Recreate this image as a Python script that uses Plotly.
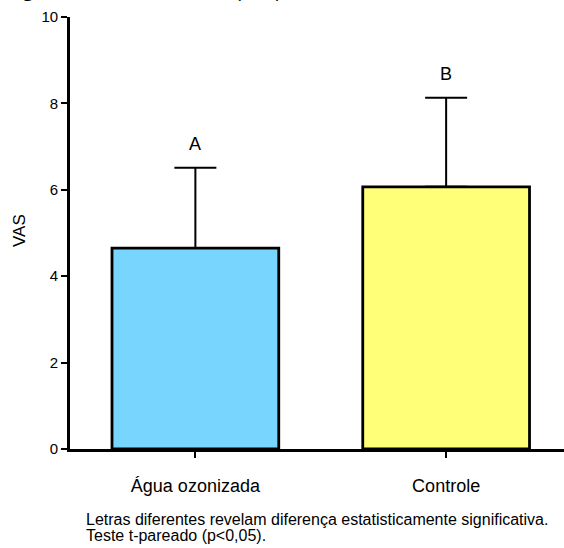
import plotly.graph_objects as go

categories = ["Água ozonizada", "Controle"]
means = [4.65, 6.07]
sds = [1.86, 2.06]
letters = ["A", "B"]
colors = ["#78D5FE", "#FFFF78"]
y_ticks = [0, 2, 4, 6, 8, 10]
footnote = ["Letras diferentes revelam diferença estatisticamente significativa.",
            "Teste t-pareado (p<0,05)."]

FONT = "Liberation Sans, Arial, sans-serif"


def px_y(page_y):
    # page pixel -> paper coordinate (plot area spans page y 17..449)
    return (449 - page_y) / 432


def px_x(page_x):
    # page pixel -> paper coordinate (plot area spans page x 70..564)
    return (page_x - 70) / 494


fig = go.Figure()
fig.add_trace(go.Bar(
    x=[0, 1], y=means, width=0.665,
    marker=dict(color=colors, line=dict(color="black", width=2.8)),
    error_y=dict(type="data", symmetric=False, array=sds, arrayminus=[0, 0],
                 color="black", thickness=2, width=21),
    showlegend=False,
))

for i, (m, s, l) in enumerate(zip(means, sds, letters)):
    fig.add_annotation(x=i, y=m + s, text=l, showarrow=False, yanchor="middle",
                       yshift=24, font=dict(family=FONT, size=18, color="black"))

fig.add_annotation(xref="paper", yref="paper", x=px_x(84), y=px_y(519), xanchor="left",
                   yanchor="middle", text=footnote[0], showarrow=False, align="left",
                   font=dict(family=FONT, size=16, color="black"))
fig.add_annotation(xref="paper", yref="paper", x=px_x(84), y=px_y(535), xanchor="left",
                   yanchor="middle", text=footnote[1], showarrow=False, align="left",
                   font=dict(family=FONT, size=16, color="black"))

fig.add_annotation(xref="paper", yref="paper", x=px_x(19), y=px_y(231), xanchor="center",
                   yanchor="middle", text="VAS", textangle=-90, showarrow=False,
                   font=dict(family=FONT, size=17, color="black"))

# heading that is cut off at the very top of the picture
fig.add_annotation(xref="paper", yref="paper", x=px_x(28), y=px_y(3),
                   xanchor="center", yanchor="bottom", text="<b>g</b>", showarrow=False,
                   font=dict(family=FONT, size=24, color="black"))
fig.add_annotation(xref="paper", yref="paper", x=px_x(258), y=px_y(3),
                   xanchor="center", yanchor="bottom", text="(VAS)", showarrow=False,
                   font=dict(family=FONT, size=18, color="black"))

fig.update_layout(
    width=564, height=548,
    margin=dict(l=70, r=0, t=17, b=99),
    paper_bgcolor="white", plot_bgcolor="white",
    font=dict(family=FONT, color="black"),
)
fig.update_xaxes(
    range=[-0.5, 1.47], tickvals=[0, 1], ticktext=categories,
    showline=True, linecolor="black", linewidth=2.8,
    ticks="outside", ticklen=6, tickwidth=2, tickcolor="black",
    showgrid=False, zeroline=False,
    tickfont=dict(family=FONT, size=18, color="black"),
    ticklabelstandoff=12,
)
fig.update_yaxes(
    range=[0, 10], tickvals=y_ticks,
    showline=True, linecolor="black", linewidth=2.8,
    ticks="outside", ticklen=6, tickwidth=2, tickcolor="black",
    showgrid=False, zeroline=False,
    tickfont=dict(family=FONT, size=15, color="black"),
)

fig.write_html("out.html", config={"displayModeBar": False},
               post_script="document.body.style.margin='0';document.body.style.overflow='hidden';")
